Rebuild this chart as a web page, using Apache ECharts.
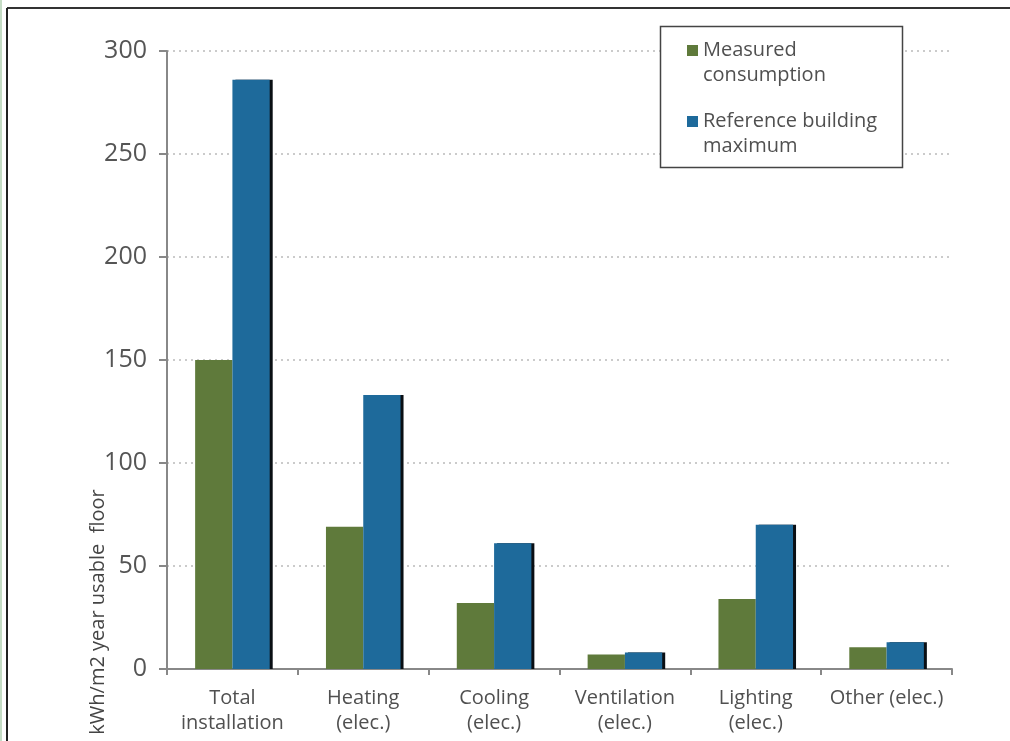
<!DOCTYPE html>
<html>
<head>
<meta charset="utf-8">
<script src="https://cdn.jsdelivr.net/npm/echarts@6/dist/echarts.min.js"></script>
<style>
html,body{margin:0;padding:0;background:#fff;}
#chart{width:1010px;height:741px;}
</style>
</head>
<body>
<div id="chart"></div>
<script>
var categories = ['Total\ninstallation', 'Heating\n(elec.)', 'Cooling\n(elec.)', 'Ventilation\n(elec.)', 'Lighting\n(elec.)', 'Other (elec.)'];
var measured = [150, 69, 32, 7, 34, 10.5];
var reference = [286, 133, 61, 8, 70, 13];
var seriesNames = ['Measured\nconsumption', 'Reference building\nmaximum'];
var yTitle = 'kWh/m2 year usable  floor';

var FONT = '"Open Sans", sans-serif';
var chart = echarts.init(document.getElementById('chart'), null, {renderer: 'canvas'});
chart.setOption({
  animation: false,
  backgroundColor: '#fff',
  grid: {left: 167, right: 58, top: 51, bottom: 72, containLabel: false},
  legend: {
    orient: 'vertical',
    left: 660, top: 26,
    padding: [12, 0, 0, 27],
    itemGap: 21,
    itemWidth: 11, itemHeight: 36,
    itemTextGap: 5,
    z: 10,
    icon: 'path://M0,0h11v11h-11z M0,36h0.01v0.01h-0.01z',
    data: seriesNames,
    textStyle: {fontFamily: FONT, fontSize: 20, color: '#505050', lineHeight: 25}
  },
  xAxis: {
    type: 'category',
    data: categories,
    axisLine: {lineStyle: {color: '#888', width: 2}},
    axisTick: {show: true, length: 6, lineStyle: {color: '#888', width: 2}},
    axisLabel: {fontFamily: FONT, fontSize: 20, color: '#505050', lineHeight: 25, margin: 17, interval: 0}
  },
  yAxis: {
    type: 'value',
    min: 0, max: 300, interval: 50,
    axisLine: {show: true, lineStyle: {color: '#888', width: 2}},
    axisTick: {show: true, length: 8, lineStyle: {color: '#888', width: 2}},
    axisLabel: {fontFamily: FONT, fontSize: 25, color: '#555', margin: 20},
    splitLine: {show: true, lineStyle: {color: '#bbb', type: [2, 4], width: 1.5}}
  },
  series: [
    {
      name: seriesNames[0], type: 'bar', data: measured,
      barGap: '0%', barCategoryGap: '43%',
      itemStyle: {color: '#5f7a3b'}
    },
    {
      name: seriesNames[1], type: 'bar', data: reference,
      itemStyle: {color: '#1e6a9b', shadowColor: '#0a0f14', shadowOffsetX: 3, shadowOffsetY: 0, shadowBlur: 0}
    }
  ],
  graphic: [
    {type: 'line', shape: {x1: 7, y1: 8, x2: 1010, y2: 8}, style: {stroke: '#333', lineWidth: 2}},
    {type: 'line', shape: {x1: 7, y1: 8, x2: 7, y2: 741}, style: {stroke: '#222', lineWidth: 2}},
    {type: 'rect', shape: {x: 0, y: 0, width: 2, height: 741}, style: {fill: '#c5dcc5'}},
    {type: 'rect', z: 5, shape: {x: 660.5, y: 26.5, width: 242, height: 141}, style: {fill: '#fff', stroke: '#444', lineWidth: 1.5}},
    {type: 'text', x: 98, y: 612, rotation: Math.PI / 2, style: {text: yTitle, fontFamily: FONT, fontSize: 20, fill: '#444', align: 'center', verticalAlign: 'middle'}}
  ]
});
</script>
</body>
</html>
